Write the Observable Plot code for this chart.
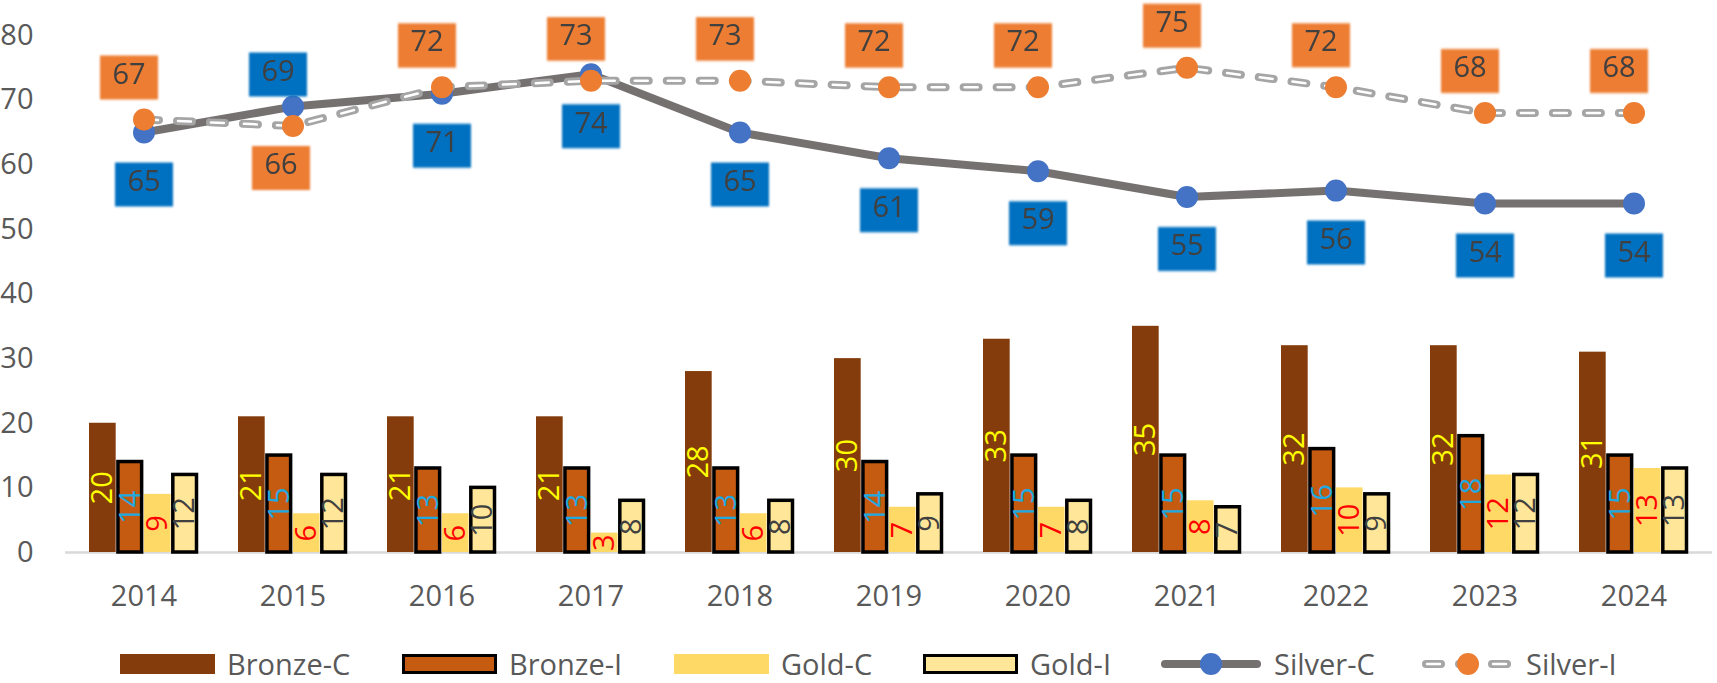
<!DOCTYPE html>
<html>
<head>
<meta charset="utf-8">
<script src="https://cdn.jsdelivr.net/npm/d3@7"></script>
<script src="https://cdn.jsdelivr.net/npm/@observablehq/plot@0.6"></script>
<style>
  body { margin: 0; background: #fff; overflow: hidden; }
  #chart { width: 1717px; }
  #chart > svg { display: block; }
  .legend { display: flex; align-items: center; height: 29px; padding-top: 3px; padding-left: 120px;
    font-family: "Open Sans", Lato, sans-serif; font-size: 29px; line-height: 1; color: #595959; }
  .legend .item { display: flex; align-items: center; }
  .legend svg { margin-right: 12px; }
</style>
</head>
<body>
<div id="chart"></div>
<script>
const years = ["2014", "2015", "2016", "2017", "2018", "2019", "2020", "2021", "2022", "2023", "2024"];
const bronzeC = [20, 21, 21, 21, 28, 30, 33, 35, 32, 32, 31];
const bronzeI = [14, 15, 13, 13, 13, 14, 15, 15, 16, 18, 15];
const goldC = [9, 6, 6, 3, 6, 7, 7, 8, 10, 12, 13];
const goldI = [12, 12, 10, 8, 8, 9, 8, 7, 9, 12, 13];
const silverC = [65, 69, 71, 74, 65, 61, 59, 55, 56, 54, 54];
const silverI = [67, 66, 72, 73, 73, 72, 72, 75, 72, 68, 68];

// years where the data label sits on the other side of the point
const silverCAbove = new Set(["2015"]);
const silverIBelow = new Set(["2015"]);

const W = 1717, H = 646, mL = 65, mR = 5;
const padIn = 0.267;
const groupW = (W - mL - mR) / years.length * (1 - padIn);
const barW = groupW / 4;
const font = "'Open Sans', Lato, sans-serif";

const rowsOf = vals => years.map((year, j) => ({year, v: vals[j]}));

const barSeries = [
  {name: "Bronze-C", values: bronzeC, fill: "#843C0C", stroke: null, label: "#FFFF00"},
  {name: "Bronze-I", values: bronzeI, fill: "#C55A11", stroke: "#000", label: "#1FA9E1"},
  {name: "Gold-C", values: goldC, fill: "#FFD966", stroke: null, label: "#FF0000"},
  {name: "Gold-I", values: goldI, fill: "#FFE699", stroke: "#000", label: "#404040"}
];

const box = {draw(ctx) { ctx.rect(-29, -22, 58, 44); }};

const barMarks = barSeries.map((s, i) => {
  const edge = s.stroke ? 1.5 : 0;
  return Plot.barY(rowsOf(s.values), {
    x: "year", y: "v", fill: s.fill,
    stroke: s.stroke || "none", strokeWidth: 3.5,
    insetLeft: i * barW + edge, insetRight: (3 - i) * barW + edge
  });
});

const barLabels = barSeries.map((s, i) =>
  Plot.text(rowsOf(s.values), {
    x: "year", y: d => d.v / 2, text: d => String(d.v),
    rotate: -90, dx: (i - 1.5) * barW, fill: s.label,
    fontSize: 29, fontFamily: font, textAnchor: "middle", lineAnchor: "middle"
  })
);

const cRows = rowsOf(silverC);
const iRows = rowsOf(silverI);

function labelMarks(rows, fill, dx, dy) {
  return [
    Plot.dot(rows, {x: "year", y: "v", symbol: box, r: 10, fill, dx, dy, ariaDescription: "label-box"}),
    Plot.text(rows, {x: "year", y: "v", text: d => String(d.v), dx, dy: dy - 3,
      fill: "#404040", fontSize: 29, fontFamily: font, lineAnchor: "middle"})
  ];
}

const chart = Plot.plot({
  width: W,
  height: H,
  marginLeft: mL,
  marginRight: mR,
  marginTop: 35,
  marginBottom: H - 552,
  style: {fontFamily: font, fontSize: "29px", color: "#595959", background: "#fff"},
  x: {domain: years, paddingInner: padIn, paddingOuter: padIn / 2, tickSize: 0, tickPadding: 33, label: null},
  y: {domain: [0, 80], ticks: d3.range(0, 81, 10), tickSize: 0, tickPadding: 32, label: null},
  marks: [
    Plot.ruleY([0], {stroke: "#D9D9D9", strokeWidth: 2.5}),
    ...barMarks,
    ...barLabels,
    Plot.line(cRows, {x: "year", y: "v", stroke: "#767171", strokeWidth: 8, strokeLinejoin: "round"}),
    Plot.dot(cRows, {x: "year", y: "v", r: 11, fill: "#4472C4"}),
    Plot.line(iRows, {x: "year", y: "v", stroke: "#A5A5A5", strokeWidth: 8,
      strokeLinecap: "round", strokeDasharray: "15,18"}),
    Plot.line(iRows, {x: "year", y: "v", stroke: "#fff", strokeWidth: 2.5,
      strokeLinecap: "round", strokeDasharray: "13,20", strokeDashoffset: -1}),
    Plot.dot(iRows, {x: "year", y: "v", r: 11, fill: "#ED7D31"}),
    ...labelMarks(cRows.filter(d => !silverCAbove.has(d.year)), "#0070C0", 0, 52),
    ...labelMarks(cRows.filter(d => silverCAbove.has(d.year)), "#0070C0", -15, -32),
    ...labelMarks(iRows.filter(d => !silverIBelow.has(d.year)), "#ED7D31", -15, -42),
    ...labelMarks(iRows.filter(d => silverIBelow.has(d.year)), "#ED7D31", -12, 42)
  ]
});

// soft edges on the label boxes
const defs = document.createElementNS("http://www.w3.org/2000/svg", "defs");
defs.innerHTML = `<filter id="soft" x="-10%" y="-10%" width="120%" height="120%"><feGaussianBlur stdDeviation="1.1"/></filter>`;
chart.insertBefore(defs, chart.firstChild);
chart.querySelectorAll('[aria-description="label-box"]').forEach(g => g.setAttribute("filter", "url(#soft)"));

const root = document.getElementById("chart");
root.appendChild(chart);

// legend
const swatch = {
  bar: (fill, stroke) => `<svg width="95" height="22"><rect x="${stroke ? 1.5 : 0}" y="${stroke ? 2.5 : 1}" width="${stroke ? 92 : 95}" height="${stroke ? 17 : 20}" fill="${fill}" ${stroke ? `stroke="${stroke}" stroke-width="3"` : ""}/></svg>`,
  lineC: `<svg width="102" height="24"><line x1="5" x2="97" y1="12" y2="12" stroke="#767171" stroke-width="8" stroke-linecap="round"/><circle cx="51" cy="12" r="11" fill="#4472C4"/></svg>`,
  lineI: `<svg width="93" height="24"><line x1="5" x2="88" y1="12" y2="12" stroke="#A5A5A5" stroke-width="8" stroke-linecap="round" stroke-dasharray="15,18"/><line x1="6" x2="88" y1="12" y2="12" stroke="#fff" stroke-width="2.5" stroke-linecap="round" stroke-dasharray="13,20"/><circle cx="47" cy="12" r="11" fill="#ED7D31"/></svg>`
};
const legendItems = [
  ["Bronze-C", swatch.bar("#843C0C"), 282],
  ["Bronze-I", swatch.bar("#C55A11", "#000"), 272],
  ["Gold-C", swatch.bar("#FFD966"), 249],
  ["Gold-I", swatch.bar("#FFE699", "#000"), 237],
  ["Silver-C", swatch.lineC, 261],
  ["Silver-I", swatch.lineI, 220]
];
const legend = document.createElement("div");
legend.className = "legend";
legend.innerHTML = legendItems.map(([name, sw, w]) =>
  `<div class="item" style="width:${w}px">${sw}<span>${name}</span></div>`).join("");
root.appendChild(legend);
</script>
</body>
</html>
